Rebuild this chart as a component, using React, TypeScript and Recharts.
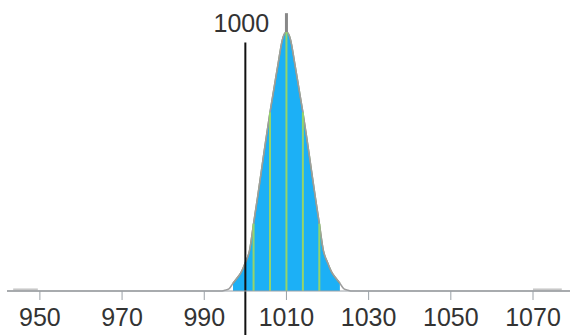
import { Area, ComposedChart, Line, ReferenceLine, XAxis, YAxis } from "recharts"

// x positions and relative curve height (peak = 100)
const xs = [
  942, 990, 994, 995, 996, 997, 998, 999, 1000, 1001, 1002, 1003, 1004, 1005, 1006, 1007, 1008, 1009,
  1010, 1011, 1012, 1013, 1014, 1015, 1016, 1017, 1018, 1019, 1020, 1021, 1022, 1023, 1024, 1025,
  1026, 1030, 1079,
]
const heights = [
  0, 0, 0, 0.3, 0.8, 3, 5, 7.3, 11, 15.5, 26, 36.5, 47.5, 58.5, 69, 78.5, 88, 97,
  100, 97, 88, 78.5, 69, 58.5, 47.5, 36.5, 26, 15.5, 11, 7.3, 5, 3, 0.8, 0.3,
  0, 0, 0,
]
const xTicks = [950, 970, 990, 1010, 1030, 1050, 1070]
const shadeFrom = 997
const shadeTo = 1023
const sigmaMarks = [1002, 1006, 1010, 1014, 1018]
const mean = 1010
const marker = 1000
const markerLabel = "1000"
// faint grey bits lying on the axis near both ends
const edgeBits = [
  [943.5, 949.5],
  [1070, 1077],
]

const data = xs.map((x, i) => {
  const h = heights[i] ?? 0
  return { x, h, shade: x >= shadeFrom && x <= shadeTo ? h : null }
})

const heightAt = (x: number) => data.find((d) => d.x === x)?.h ?? 0

const font = "'Liberation Sans', Arial, Helvetica, sans-serif"

function MarkerLabel(props: any) {
  const { viewBox } = props
  return (
    <text
      x={viewBox.x - 4}
      y={viewBox.y - 10}
      textAnchor="middle"
      fontSize={25}
      fontFamily={font}
      fill="#333"
    >
      {markerLabel}
    </text>
  )
}

export default function App() {
  return (
    <div style={{ position: "absolute", left: 0, top: 0 }}>
      <ComposedChart
        width={571}
        height={335}
        data={data}
        margin={{ top: 1, right: 1, bottom: 0, left: 7 }}
      >
        <XAxis
          dataKey="x"
          type="number"
          domain={[942, 1079]}
          ticks={xTicks}
          height={44}
          tickSize={9}
          tickMargin={8}
          stroke="#9aa0a6"
          tick={{ fill: "#333", fontSize: 25, fontFamily: font }}
          interval={0}
        />
        <YAxis hide domain={[0, 112]} />
        {edgeBits.map(([a, b]) => (
          <ReferenceLine
            key={a}
            segment={[
              { x: a, y: 0.6 },
              { x: b, y: 0.6 },
            ]}
            stroke="#c8c8c8"
            strokeWidth={2}
          />
        ))}
        <Line
          type="monotone"
          dataKey="h"
          stroke="#9e9e9e"
          strokeWidth={1.5}
          dot={false}
          isAnimationActive={false}
        />
        <Area
          type="monotone"
          dataKey="shade"
          stroke="#7f9a6a"
          strokeWidth={1.5}
          fill="#1cb0f6"
          fillOpacity={1}
          baseValue={0}
          isAnimationActive={false}
        />
        {sigmaMarks.map((m) => (
          <ReferenceLine
            key={m}
            segment={[
              { x: m, y: 0 },
              { x: m, y: heightAt(m) },
            ]}
            stroke="#95d46a"
            strokeWidth={2}
          />
        ))}
        <ReferenceLine
          segment={[
            { x: mean, y: 100 },
            { x: mean, y: 107.3 },
          ]}
          stroke="#888"
          strokeWidth={3}
          ifOverflow="visible"
        />
        <ReferenceLine
          segment={[
            { x: marker, y: -17.5 },
            { x: marker, y: 96 },
          ]}
          stroke="#111"
          strokeWidth={2}
          ifOverflow="visible"
          label={<MarkerLabel />}
        />
      </ComposedChart>
    </div>
  )
}
